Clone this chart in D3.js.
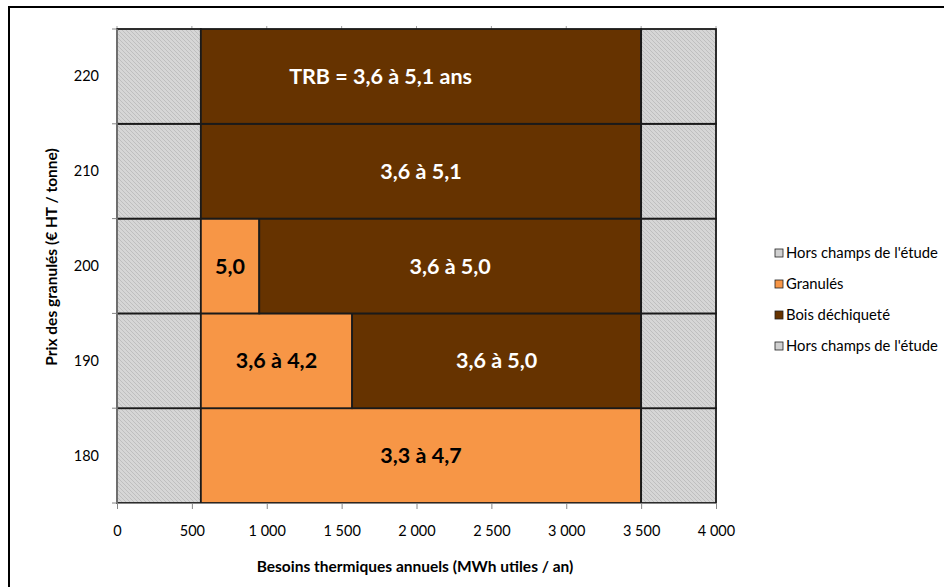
<!DOCTYPE html>
<html>
<head>
<meta charset="utf-8">
<script src="https://cdn.jsdelivr.net/npm/d3@7"></script>
<style>
  body { margin: 0; background: #fff; }
  svg { display: block; font-family: Lato, "Open Sans", sans-serif; }
</style>
</head>
<body>
<svg id="svg"></svg>
<script>
// data
const prices = [180, 190, 200, 210, 220]
const horsA = [560, 560, 560, 560, 560]
const granules = [2940, 1010, 390, 0, 0]
const bois = [0, 1930, 2550, 2940, 2940]
const horsB = [500, 500, 500, 500, 500]
const granulesLabels = ["3,3 à 4,7", "3,6 à 4,2", "5,0", "", ""]
const boisLabels = ["", "3,6 à 5,0", "3,6 à 5,0", "3,6 à 5,1", "TRB = 3,6 à 5,1 ans"]
const xTicks = [0, 500, 1000, 1500, 2000, 2500, 3000, 3500, 4000]
const legendNames = ["Hors champs de l'étude", "Granulés", "Bois déchiqueté", "Hors champs de l'étude"]

const keys = ["horsA", "granules", "bois", "horsB"]
const rows = prices.map((p, i) => ({
    price: p, horsA: horsA[i], granules: granules[i], bois: bois[i], horsB: horsB[i],
    granulesLabel: granulesLabels[i], boisLabel: boisLabels[i]
}))

const svg = d3.select("#svg").attr("width", 944).attr("height", 587)

// hatch pattern for the "hors champs" cells
const defs = svg.append("defs")
const pat = defs.append("pattern")
    .attr("id", "hatch")
    .attr("patternUnits", "userSpaceOnUse")
    .attr("width", 4).attr("height", 4)
pat.append("rect").attr("width", 4).attr("height", 4).attr("fill", "#d6d6d6")
pat.append("path").attr("d", "M-1,3 l2,2 M0,0 l4,4 M3,-1 l2,2")
    .attr("stroke", "#bfbfbf").attr("stroke-width", 1)

const fills = { horsA: "url(#hatch)", granules: "#f79646", bois: "#663300", horsB: "url(#hatch)" }

// outer chart border
svg.append("rect")
    .attr("x", 9).attr("y", 7).attr("width", 960).attr("height", 600)
    .attr("fill", "none").attr("stroke", "#000").attr("stroke-width", 2)

const x = d3.scaleLinear().domain([0, 4000]).range([117, 716])
const y = d3.scaleBand().domain(prices.slice().reverse()).range([29, 503]).padding(0)

// gridlines (behind the bars)
svg.append("g").selectAll("line")
    .data(xTicks)
    .join("line")
    .attr("x1", d => x(d)).attr("x2", d => x(d))
    .attr("y1", 26).attr("y2", 503)
    .attr("stroke", "#a0a0a0")

const stacked = d3.stack().keys(keys)(rows)

svg.append("g").selectAll("g")
    .data(stacked)
    .join("g")
    .attr("fill", d => fills[d.key])
    .selectAll("rect")
    .data(d => d.filter(s => s[1] > s[0]))
    .join("rect")
    .attr("x", d => x(d[0]))
    .attr("y", d => y(d.data.price))
    .attr("width", d => x(d[1]) - x(d[0]))
    .attr("height", y.bandwidth())
    .attr("stroke", "#1a1a1a")
    .attr("stroke-width", 1.8)

// segment labels
const segLabels = []
stacked.forEach(series => {
    if (series.key !== "granules" && series.key !== "bois") return
    series.forEach(s => {
        const txt = s.data[series.key + "Label"]
        if (txt) segLabels.push({ key: series.key, s, txt })
    })
})
svg.append("g").selectAll("text")
    .data(segLabels)
    .join("text")
    .attr("x", d => d.txt.startsWith("TRB") ? x(1760) : (x(d.s[0]) + x(d.s[1])) / 2)
    .attr("y", d => y(d.s.data.price) + y.bandwidth() / 2)
    .attr("dy", "0.35em")
    .attr("text-anchor", "middle")
    .attr("font-size", 21.5)
    .attr("font-weight", "bold")
    .attr("fill", d => d.key === "bois" ? "#fff" : "#000")
    .text(d => d.txt)

// x axis
const xAxis = svg.append("g")
    .attr("transform", "translate(0,503)")
    .call(d3.axisBottom(x).tickValues(xTicks).tickSize(6).tickPadding(17)
        .tickFormat(d => d >= 1000 ? Math.floor(d / 1000) + " " + String(d % 1000).padStart(3, "0") : d))
xAxis.select(".domain").attr("stroke", "#868686")
xAxis.selectAll(".tick line").attr("stroke", "#868686")
xAxis.selectAll("text").attr("font-size", 14.5).attr("fill", "#000")
    .attr("font-family", "Lato, sans-serif")

// y axis
const yTicksG = svg.append("g").attr("transform", "translate(117,0)")
yTicksG.append("line")
    .attr("y1", 29).attr("y2", 503)
    .attr("stroke", "#868686").attr("stroke-width", 1.5)
yTicksG.selectAll(".tk")
    .data(prices.concat(["top"]))
    .join("line")
    .attr("class", "tk")
    .attr("x1", -5).attr("x2", 0)
    .attr("y1", d => d === "top" ? 29 : y(d) + y.bandwidth())
    .attr("y2", d => d === "top" ? 29 : y(d) + y.bandwidth())
    .attr("stroke", "#868686")
yTicksG.selectAll("text")
    .data(prices)
    .join("text")
    .attr("x", -18)
    .attr("y", d => y(d) + y.bandwidth() / 2)
    .attr("dy", "0.35em")
    .attr("text-anchor", "end")
    .attr("font-size", 14.5)
    .text(d => d)

// axis titles
svg.append("text")
    .attr("x", 415).attr("y", 567)
    .attr("dy", "0.35em")
    .attr("text-anchor", "middle")
    .attr("font-size", 15.5).attr("font-weight", "bold")
    .text("Besoins thermiques annuels (MWh  utiles / an)")
svg.append("text")
    .attr("transform", "translate(52,257) rotate(-90)")
    .attr("dy", "0.35em")
    .attr("text-anchor", "middle")
    .attr("font-size", 15.5).attr("font-weight", "bold")
    .text("Prix des granulés  (€ HT / tonne)")

// legend
const legendFills = ["#d0d0d0", "#f79646", "#663300", "#d0d0d0"]
const legend = svg.append("g").selectAll("g")
    .data(legendNames)
    .join("g")
    .attr("transform", (d, i) => `translate(775,${253 + i * 31})`)
legend.append("rect")
    .attr("x", 0).attr("y", -4).attr("width", 8).attr("height", 8)
    .attr("fill", (d, i) => legendFills[i])
    .attr("stroke", "#222").attr("stroke-width", 0.8)
legend.append("text")
    .attr("x", 11).attr("dy", "0.35em")
    .attr("font-size", 14.8)
    .text(d => d)
</script>
</body>
</html>
